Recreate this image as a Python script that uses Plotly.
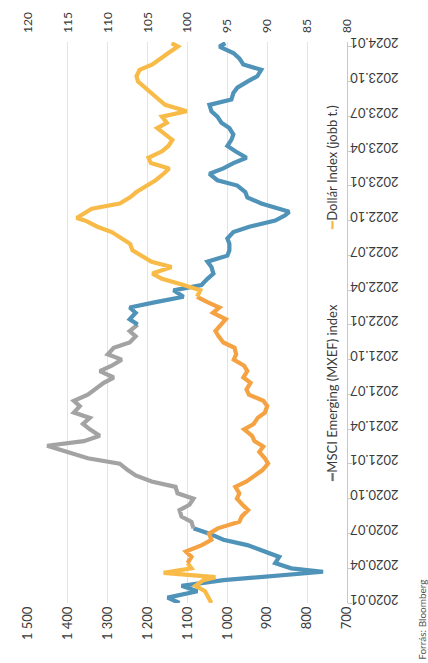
import pandas as pd
import plotly.graph_objects as go

# MSCI Emerging Markets index (MXEF), left axis
msci_dates = [
    "2020-01-01", "2020-01-15", "2020-02-01", "2020-02-15", "2020-03-01", "2020-03-12",
    "2020-03-23", "2020-04-01", "2020-04-15", "2020-05-01", "2020-05-15", "2020-06-01",
    "2020-06-15", "2020-07-01", "2020-07-15", "2020-08-01", "2020-08-15", "2020-09-01",
    "2020-09-15", "2020-10-01", "2020-10-15", "2020-11-01", "2020-11-15", "2020-12-01",
    "2020-12-15", "2021-01-01", "2021-01-15", "2021-02-01", "2021-02-17", "2021-03-01",
    "2021-03-15", "2021-04-01", "2021-04-15", "2021-05-01", "2021-05-15", "2021-06-01",
    "2021-06-15", "2021-07-01", "2021-07-15", "2021-08-01", "2021-08-15", "2021-09-01",
    "2021-09-15", "2021-10-01", "2021-10-15", "2021-11-01", "2021-11-15", "2021-12-01",
    "2021-12-15", "2022-01-01", "2022-01-15", "2022-02-01", "2022-02-15", "2022-03-01",
    "2022-03-15", "2022-04-01", "2022-04-15", "2022-05-01", "2022-05-15", "2022-06-01",
    "2022-06-15", "2022-07-01", "2022-07-15", "2022-08-01", "2022-08-15", "2022-09-01",
    "2022-09-15", "2022-10-01", "2022-10-15", "2022-10-24", "2022-11-01", "2022-11-15",
    "2022-12-01", "2022-12-15", "2023-01-01", "2023-01-15", "2023-02-01", "2023-02-15",
    "2023-03-01", "2023-03-15", "2023-04-01", "2023-04-15", "2023-05-01", "2023-05-15",
    "2023-06-01", "2023-06-15", "2023-07-01", "2023-07-15", "2023-08-01", "2023-08-15",
    "2023-09-01", "2023-09-15", "2023-10-01", "2023-10-15", "2023-11-01", "2023-11-15",
    "2023-12-01", "2023-12-15", "2024-01-01", "2024-01-10",
]
msci_values = [
    1120, 1150, 1075, 1115, 1010, 880,
    760, 840, 880, 870, 905, 950,
    1010, 1045, 1085, 1090, 1115, 1120,
    1095, 1085, 1125, 1130, 1190, 1230,
    1250, 1270, 1350, 1400, 1452, 1360,
    1320, 1345, 1362, 1345, 1385, 1370,
    1385, 1350, 1330, 1310, 1285, 1320,
    1290, 1265, 1300, 1285, 1245, 1230,
    1245, 1225, 1245, 1230, 1245, 1180,
    1110, 1135, 1065, 1050, 1035, 1040,
    1050, 1000, 995, 995, 1000, 985,
    945, 880, 855, 845, 870, 915,
    950, 955, 975, 1025, 1045, 1010,
    985, 952, 980, 1000, 990, 985,
    995, 1015, 1025, 1040, 1045, 990,
    985, 975, 950, 925, 915, 960,
    970, 985, 1020, 1005,
]

# Dollar index (DXY), right axis
dxy_dates = [
    "2020-01-01", "2020-01-15", "2020-02-01", "2020-02-15", "2020-03-01", "2020-03-09",
    "2020-03-20", "2020-04-01", "2020-04-15", "2020-05-01", "2020-05-15", "2020-06-01",
    "2020-06-15", "2020-07-01", "2020-07-15", "2020-08-01", "2020-08-15", "2020-09-01",
    "2020-09-15", "2020-10-01", "2020-10-15", "2020-11-01", "2020-11-15", "2020-12-01",
    "2020-12-15", "2021-01-01", "2021-01-15", "2021-02-01", "2021-02-15", "2021-03-01",
    "2021-03-15", "2021-04-01", "2021-04-15", "2021-05-01", "2021-05-15", "2021-06-01",
    "2021-06-15", "2021-07-01", "2021-07-15", "2021-08-01", "2021-08-15", "2021-09-01",
    "2021-09-15", "2021-10-01", "2021-10-15", "2021-11-01", "2021-11-15", "2021-12-01",
    "2021-12-15", "2022-01-01", "2022-01-15", "2022-02-01", "2022-02-15", "2022-03-01",
    "2022-03-15", "2022-04-01", "2022-04-15", "2022-05-01", "2022-05-15", "2022-06-01",
    "2022-06-15", "2022-07-01", "2022-07-15", "2022-08-01", "2022-08-15", "2022-09-01",
    "2022-09-15", "2022-10-01", "2022-10-08", "2022-10-20", "2022-11-01", "2022-11-15",
    "2022-12-01", "2022-12-15", "2023-01-01", "2023-01-15", "2023-02-01", "2023-02-15",
    "2023-03-01", "2023-03-15", "2023-04-01", "2023-04-15", "2023-05-01", "2023-05-15",
    "2023-06-01", "2023-06-15", "2023-07-01", "2023-07-15", "2023-08-01", "2023-08-15",
    "2023-09-01", "2023-09-15", "2023-10-01", "2023-10-15", "2023-11-01", "2023-11-15",
    "2023-12-01", "2023-12-15", "2024-01-01", "2024-01-10",
]
dxy_values = [
    97.0, 97.3, 97.8, 99.0, 98.0, 96.5,
    103.0, 99.5, 100.0, 99.5, 100.2, 98.2,
    97.0, 97.3, 96.2, 93.5, 93.2, 92.4,
    93.1, 93.8, 93.5, 94.0, 92.6, 91.5,
    90.6, 89.9, 90.3, 91.0, 90.5, 91.6,
    91.9, 92.9, 91.7, 91.2, 90.3, 90.0,
    90.5, 92.3, 92.6, 92.1, 93.0, 92.5,
    92.9, 94.2, 93.9, 94.1, 95.5, 96.1,
    96.5, 95.8, 95.2, 96.8, 96.0, 97.5,
    98.8, 98.4, 100.5, 103.2, 104.4, 102.0,
    104.5, 105.8, 106.9, 107.2, 108.2, 109.5,
    111.3, 112.8, 113.9, 113.0, 112.0, 108.5,
    107.2, 106.4, 105.0, 104.0, 103.0, 102.3,
    104.6, 104.9, 103.2, 102.4, 101.9, 102.8,
    103.8, 102.6, 103.2, 100.1, 102.8, 103.6,
    104.6, 105.4, 106.2, 106.4, 106.0, 104.4,
    103.4, 102.4, 101.2, 102.0,
]

# Quarterly date ticks and value-axis ticks
date_ticks = [f"{y}-{m:02d}-01" for y in range(2020, 2024) for m in (1, 4, 7, 10)] + ["2024-01-01"]
date_labels = [d[:7].replace("-", ".") for d in date_ticks]
msci_ticks = list(range(700, 1501, 100))
msci_labels = [f"{v:,}".replace(",", " ") for v in msci_ticks]
dxy_ticks = list(range(80, 121, 5))

msci = pd.DataFrame({"date": pd.to_datetime(msci_dates), "value": msci_values})
dxy = pd.DataFrame({"date": pd.to_datetime(dxy_dates), "value": dxy_values})

BLUE = "#4f93b9"
GREY = "#a3a3a3"
YELLOW = "#f9bb47"
ORANGE = "#f5a243"


def segment(df, start, end):
    """Rows between two dates, inclusive, so adjacent pieces join up."""
    mask = (df["date"] >= pd.Timestamp(start)) & (df["date"] <= pd.Timestamp(end))
    return df[mask]


fig = go.Figure()

# Values run along the horizontal axis, dates up the vertical axis
msci_pieces = [
    ("2020-01-01", "2020-07-15", BLUE),
    ("2020-07-15", "2022-01-01", GREY),
    ("2022-01-01", "2024-01-31", BLUE),
]
dxy_pieces = [
    ("2020-01-01", "2020-04-15", YELLOW),
    ("2020-04-15", "2022-03-15", ORANGE),
    ("2022-03-15", "2024-01-31", YELLOW),
]

for start, end, color in dxy_pieces:
    seg = segment(dxy, start, end)
    fig.add_trace(go.Scatter(
        x=seg["value"], y=seg["date"], mode="lines", xaxis="x2", yaxis="y",
        line=dict(color=color, width=4.2), showlegend=False, hoverinfo="skip",
    ))

for start, end, color in msci_pieces:
    seg = segment(msci, start, end)
    fig.add_trace(go.Scatter(
        x=seg["value"], y=seg["date"], mode="lines", xaxis="x", yaxis="y",
        line=dict(color=color, width=4.2), showlegend=False, hoverinfo="skip",
    ))

font_family = "Lato, 'Open Sans', sans-serif"
tick_font = dict(family=font_family, size=13, color="#3a3a3a")

fig.update_layout(
    width=428,
    height=663,
    margin=dict(l=28, r=81, t=40, b=60),
    paper_bgcolor="white",
    plot_bgcolor="white",
    showlegend=False,
    font=dict(family=font_family, color="#3a3a3a"),
    xaxis=dict(
        range=[1500, 700],
        tickvals=msci_ticks,
        ticktext=msci_labels,
        tickangle=-90,
        tickfont=tick_font,
        showgrid=True,
        gridcolor="#e4e4e4",
        gridwidth=1,
        zeroline=False,
        showline=False,
        ticks="",
    ),
    xaxis2=dict(
        range=[120, 80],
        overlaying="x",
        side="top",
        tickvals=dxy_ticks,
        tickangle=-90,
        tickfont=dict(family=font_family, size=12, color="#3a3a3a"),
        ticklabelstandoff=8,
        showgrid=False,
        zeroline=False,
        showline=False,
        ticks="",
    ),
    yaxis=dict(
        type="date",
        range=["2020-01-01", "2024-01-13"],
        side="right",
        tickvals=date_ticks,
        ticktext=date_labels,
        tickangle=180,
        tickfont=tick_font,
        ticklabelstandoff=44,
        showgrid=False,
        zeroline=False,
        showline=True,
        linecolor="#c8c8c8",
        linewidth=1,
        ticks="outside",
        ticklen=4,
        tickcolor="#c8c8c8",
    ),
)

# Legend, set vertically inside the plot next to the date axis
fig.add_annotation(
    xref="paper", yref="paper", x=0.953, y=0.375,
    text="<span style='color:#6f6f6f'>━</span>MSCI Emerging (MXEF) index",
    textangle=-90, showarrow=False, xanchor="center", yanchor="middle",
    font=dict(family=font_family, size=13, color="#3a3a3a"),
)
fig.add_annotation(
    xref="paper", yref="paper", x=0.953, y=0.776,
    text=f"<span style='color:{YELLOW}'>━</span>Dollár Index (jobb t.)",
    textangle=-90, showarrow=False, xanchor="center", yanchor="middle",
    font=dict(family=font_family, size=13, color="#3a3a3a"),
)

# Source note
fig.add_annotation(
    xref="paper", yref="paper", x=1.235, y=-0.03,
    text="Forrás: Bloomberg",
    textangle=-90, showarrow=False, xanchor="center", yanchor="middle",
    font=dict(family=font_family, size=10, color="#555555"),
)

fig.write_html("out.html")
